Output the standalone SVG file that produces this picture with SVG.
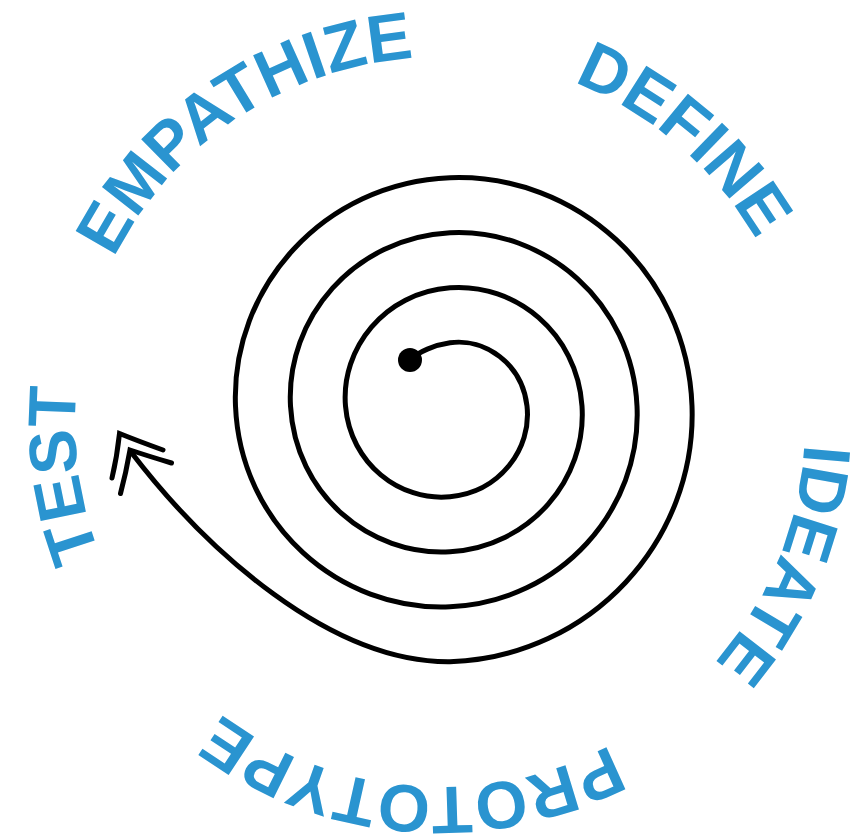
<svg xmlns="http://www.w3.org/2000/svg" xmlns:xlink="http://www.w3.org/1999/xlink" width="858" height="839" viewBox="0 0 858 839">
<style>
.lbl{font-family:"Liberation Sans",Arial,sans-serif;font-weight:bold;font-size:67px;fill:#2a94d0}
.ln{fill:none;stroke:#000;stroke-width:5;stroke-linecap:round;stroke-linejoin:miter}
</style>
<defs>
<path id="ring" d="M 805 422 A 365 365 0 1 1 75 422 A 365 365 0 1 1 805 422"/>
</defs>
<rect width="858" height="839" fill="#fff"/>
<g id="connectors">
<path class="ln" d="M 410 360 C 418 352 435 344.8 450 342.75 C 484.93 337.91 522.16 363.47 527 406 C 531.84 448.53 500.12 491.91 450 496.75 C 399.88 501.59 350.34 463.72 345.5 406 C 340.66 348.28 384.69 292.59 450 287.75 C 515.31 282.91 577.16 333.10 582 406 C 586.84 478.90 530.50 546.91 450 551.75 C 369.50 556.59 295.34 494.09 290.5 406 C 285.66 317.91 354.31 237.59 450 232.75 C 545.69 227.91 632.16 302.72 637 406 C 641.84 509.28 560.87 601.91 450 606.75 C 339.13 611.59 240.34 524.47 235.5 406 C 230.66 287.53 323.94 182.59 450 177.75 C 576.06 172.91 687.16 272.34 692 406 C 696.84 539.66 591.25 656.91 450 661.75 C 330 663 206 550 131 452"/>
<path class="ln" d="M 163 450 Q 138 441 119.5 433.5 Q 117 457 112 478"/>
<path class="ln" d="M 171.5 463 Q 148 456 130 450 Q 126 473 120.5 493.5"/>
<circle cx="410" cy="360" r="12" fill="#000"/>
</g>
<g id="empathize"><text class="lbl"><textPath xlink:href="#ring" startOffset="1316">EMPATHIZE</textPath></text></g>
<g id="define"><text class="lbl"><textPath xlink:href="#ring" startOffset="1856">DEFINE</textPath></text></g>
<g id="ideate"><text class="lbl"><textPath xlink:href="#ring" startOffset="22">IDEATE</textPath></text></g>
<g id="prototype"><text class="lbl"><textPath xlink:href="#ring" startOffset="396">PROTOTYPE</textPath></text></g>
<g id="test"><text class="lbl"><textPath xlink:href="#ring" startOffset="1010">TEST</textPath></text></g>
</svg>
